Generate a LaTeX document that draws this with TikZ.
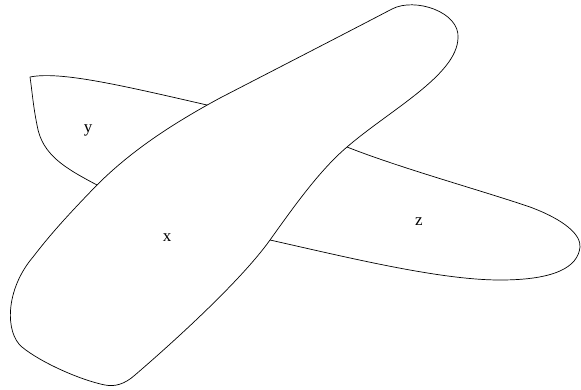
\documentclass[tikz,border=0pt]{standalone}
\usepackage{fontspec}
\setmainfont{Liberation Serif}
\begin{document}
\begin{tikzpicture}[x=1pt,y=-1pt,
  blob/.style={draw=black,fill=white,line width=0.7pt,line join=round},
  lbl/.style={anchor=base,inner sep=0pt,font=\fontsize{17}{20}\selectfont}]
\useasboundingbox (0,0) rectangle (581,389);
% y / z blob (behind)
\path[blob] (30,77) .. controls (60,71) and (120,85) .. (207,105)
  -- (347,147)
  .. controls (400,168) and (480,190) .. (530,207)
  .. controls (565,220) and (581,235) .. (580,247)
  .. controls (578,267) and (555,280) .. (500,280)
  .. controls (440,280) and (350,258) .. (270,240)
  -- (97,185)
  .. controls (65,168) and (42,155) .. (37,125)
  .. controls (33,105) and (32,90) .. (30,77) -- cycle;
% x blob (front)
\path[blob] (392,9) .. controls (415,-3) and (460,12) .. (458,38)
  .. controls (457,75) and (390,110) .. (347,147)
  .. controls (320,170) and (295,205) .. (270,240)
  .. controls (240,282) and (170,345) .. (135,375)
  .. controls (125,384) and (115,387) .. (105,385)
  .. controls (80,380) and (40,362) .. (22,347)
  .. controls (5,333) and (5,290) .. (33,257)
  .. controls (50,235) and (65,218) .. (97,185)
  .. controls (130,152) and (170,125) .. (220,98)
  .. controls (280,67) and (350,31) .. (392,9) -- cycle;
\node[lbl] (y) at (88,132.5) {y};
\node[lbl] (x) at (167,241) {x};
\node[lbl] (z) at (419,225) {z};
\end{tikzpicture}
\end{document}
